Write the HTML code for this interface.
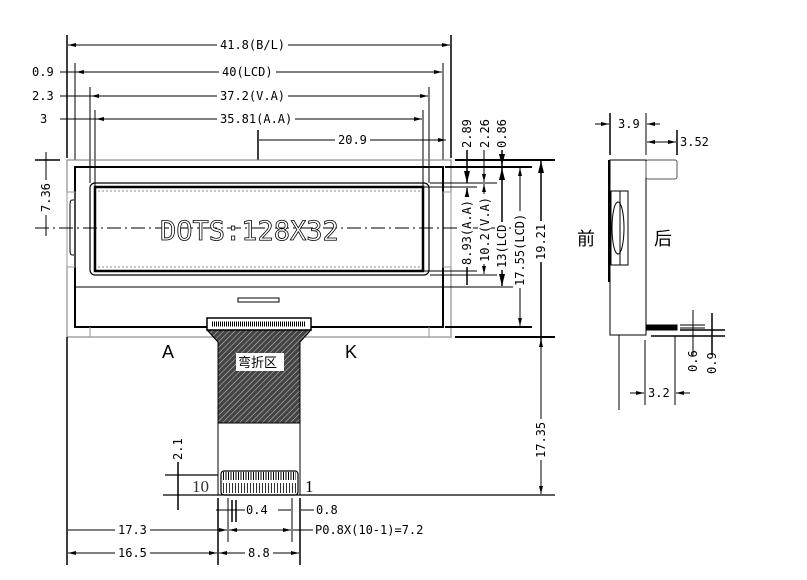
<!DOCTYPE html>
<html><head><meta charset="utf-8"><style>
html,body{margin:0;padding:0;background:#fff;}
svg{display:block;}
text{font-family:"Liberation Sans","Noto Sans CJK SC",sans-serif;font-size:12px;fill:#000;}
.n{font-family:"DejaVu Sans Mono","Liberation Mono",monospace;font-size:12px;}
</style></head><body>
<svg width="807" height="580" viewBox="0 0 807 580" xmlns="http://www.w3.org/2000/svg">
<defs>
<pattern id="h" width="4" height="4" patternUnits="userSpaceOnUse" patternTransform="rotate(45)">
<rect width="4" height="4" fill="#444"/><line x1="0" y1="0" x2="0" y2="4" stroke="#ccc" stroke-width="1"/></pattern>
<marker id="a" markerWidth="8" markerHeight="6" refX="8" refY="3" orient="auto-start-reverse"><path d="M0,1 L8,3 L0,5" fill="#000"/></marker>
</defs>
<g stroke="#000" fill="none" stroke-width="1">
<line x1="67" y1="35" x2="67" y2="158" stroke-width="1.5"/>
<line x1="451" y1="35" x2="451" y2="158" stroke-width="1.5"/>
<line x1="75" y1="63" x2="75" y2="160"/>
<line x1="443" y1="63" x2="443" y2="160"/>
<line x1="90" y1="87" x2="90" y2="183"/>
<line x1="429" y1="87" x2="429" y2="183"/>
<line x1="95" y1="110" x2="95" y2="187"/>
<line x1="423" y1="110" x2="423" y2="187"/>
<line x1="258" y1="130" x2="258" y2="160" stroke-width="1.5"/>
<line x1="68" y1="45" x2="450" y2="45" marker-start="url(#a)" marker-end="url(#a)"/>
<line x1="60" y1="72" x2="442" y2="72" marker-end="url(#a)"/>
<line x1="76" y1="72" x2="100" y2="72" marker-start="url(#a)"/>
<line x1="60" y1="96" x2="428" y2="96" marker-end="url(#a)"/>
<line x1="91" y1="96" x2="110" y2="96" marker-start="url(#a)"/>
<line x1="60" y1="119" x2="422" y2="119" marker-end="url(#a)"/>
<line x1="96" y1="119" x2="110" y2="119" marker-start="url(#a)"/>
<line x1="259" y1="140" x2="446" y2="140" marker-end="url(#a)"/>
<rect x="67" y="160" width="384" height="177" stroke="#777"/>
<rect x="75" y="167" width="368" height="160" stroke-width="2"/>
<rect x="90" y="183" width="339" height="92" rx="5" stroke-width="1.2"/>
<rect x="95" y="187" width="328" height="84" stroke-width="2.5"/>
<line x1="98" y1="191" x2="420" y2="191" stroke="#888" stroke-dasharray="2,2"/>
<line x1="98" y1="267" x2="420" y2="267" stroke="#888" stroke-dasharray="2,2"/>
<line x1="75" y1="287" x2="443" y2="287"/>
<rect x="238" y="298" width="41" height="4"/>
<line x1="90" y1="327" x2="90" y2="337" stroke="#999"/>
<line x1="429" y1="327" x2="429" y2="337" stroke="#999"/>
<path d="M75,200 L72,200 Q70,200 70,205 L70,250 Q70,255 72,255 L75,255"/>
<rect x="67" y="192" width="8" height="75" stroke="#999"/>
<rect x="443" y="192" width="8" height="75" stroke="#999"/>
<line x1="35" y1="228" x2="520" y2="228" stroke-dasharray="14,4,2,4"/>
<line x1="35" y1="160" x2="60" y2="160" stroke-width="1.5"/>
<line x1="46" y1="152" x2="46" y2="236"/>
<line x1="455" y1="160" x2="555" y2="160" stroke-width="2"/>
<line x1="445" y1="167" x2="532" y2="167" stroke-width="2"/>
<line x1="430" y1="183" x2="497" y2="183"/>
<line x1="424" y1="187" x2="477" y2="187"/>
<line x1="424" y1="271" x2="477" y2="271"/>
<line x1="430" y1="275" x2="497" y2="275"/>
<line x1="443" y1="287" x2="515" y2="287"/>
<line x1="445" y1="327" x2="532" y2="327" stroke-width="2"/>
<line x1="455" y1="337" x2="555" y2="337" stroke-width="2"/>
<line x1="467" y1="150" x2="467" y2="183" marker-end="url(#a)" stroke-width="1.5"/>
<line x1="467" y1="188" x2="467" y2="285" marker-start="url(#a)" stroke-width="1.5"/>
<line x1="484" y1="150" x2="484" y2="182" marker-end="url(#a)"/>
<line x1="484" y1="184" x2="484" y2="274" marker-start="url(#a)" marker-end="url(#a)"/>
<line x1="502" y1="150" x2="502" y2="166" marker-end="url(#a)" stroke-width="1.5"/>
<line x1="502" y1="168" x2="502" y2="286" marker-start="url(#a)" marker-end="url(#a)" stroke-width="1.5"/>
<line x1="520" y1="168" x2="520" y2="326" marker-start="url(#a)" marker-end="url(#a)"/>
<line x1="541" y1="161" x2="541" y2="345" marker-start="url(#a)" stroke-width="1.5"/>
<line x1="541" y1="339" x2="541" y2="494" marker-start="url(#a)" marker-end="url(#a)"/>
<path d="M207,330 L218,342 L218,423 L300,423 L300,342 L311,330 Z" fill="url(#h)"/>
<rect x="207" y="318" width="104" height="12" fill="#fff" stroke-width="1.5"/>
<line x1="212" y1="324" x2="306" y2="324" stroke-width="5" stroke-dasharray="1,1"/>
<line x1="218" y1="423" x2="218" y2="495"/>
<line x1="300" y1="423" x2="300" y2="495"/>
<rect x="221" y="471" width="77" height="24" rx="3" stroke-width="1.2"/>
<line x1="223" y1="476" x2="296" y2="476" stroke-width="8" stroke-dasharray="1,1.5"/>
<line x1="223" y1="488" x2="296" y2="488" stroke-width="10" stroke-dasharray="1,2" stroke="#333"/>
<line x1="163" y1="495" x2="555" y2="495" stroke-width="1.2"/>
<line x1="165" y1="475" x2="218" y2="475" stroke-width="1.2"/>
<line x1="178" y1="440" x2="178" y2="510" stroke-width="1.5"/>
<line x1="67" y1="337" x2="67" y2="565" stroke-width="1.5"/>
<line x1="218" y1="498" x2="218" y2="565" stroke-width="1.5"/>
<line x1="228" y1="498" x2="228" y2="542"/>
<line x1="300" y1="498" x2="300" y2="565" stroke-width="1.5"/>
<line x1="292" y1="498" x2="292" y2="542"/>
<line x1="232" y1="500" x2="232" y2="522" stroke-width="1.5"/>
<line x1="236" y1="500" x2="236" y2="522" stroke-width="1.5"/>
<line x1="216" y1="510" x2="245" y2="510"/>
<line x1="278" y1="510" x2="291" y2="510"/>
<line x1="301" y1="510" x2="314" y2="510"/>
<line x1="68" y1="530" x2="227" y2="530" marker-end="url(#a)"/>
<line x1="229" y1="530" x2="291" y2="530" marker-start="url(#a)" marker-end="url(#a)"/>
<line x1="293" y1="530" x2="313" y2="530"/>
<line x1="68" y1="553" x2="217" y2="553" marker-start="url(#a)" marker-end="url(#a)"/>
<line x1="219" y1="553" x2="299" y2="553" marker-start="url(#a)" marker-end="url(#a)"/>
<line x1="610" y1="113" x2="610" y2="155" stroke-width="1.5"/>
<line x1="646" y1="113" x2="646" y2="155"/>
<line x1="677" y1="130" x2="677" y2="155" stroke-width="1.5"/>
<line x1="595" y1="124" x2="609" y2="124" marker-end="url(#a)"/>
<line x1="647" y1="124" x2="660" y2="124" marker-start="url(#a)"/>
<line x1="647" y1="142" x2="676" y2="142" marker-start="url(#a)" marker-end="url(#a)"/>
<rect x="610" y="160" width="36" height="175"/>
<line x1="609" y1="160" x2="609" y2="282" stroke-width="2"/>
<rect x="646" y="160" width="31" height="19" rx="2" stroke="#555"/>
<rect x="611" y="191" width="17" height="74"/>
<line x1="620" y1="191" x2="620" y2="265"/>
<ellipse cx="618" cy="228" rx="6" ry="26"/>
<rect x="646" y="325" width="31" height="5" fill="#000"/>
<line x1="680" y1="325" x2="705" y2="325"/>
<line x1="680" y1="328" x2="705" y2="328"/>
<line x1="680" y1="330" x2="725" y2="330" stroke-width="1.5"/>
<line x1="651" y1="336" x2="725" y2="336" stroke-width="1.5"/>
<line x1="693" y1="310" x2="693" y2="355"/>
<line x1="712" y1="313" x2="712" y2="355" stroke-width="1.5"/>
<line x1="619" y1="335" x2="619" y2="410"/>
<line x1="645" y1="340" x2="645" y2="405"/>
<line x1="675" y1="336" x2="675" y2="405"/>
<line x1="630" y1="393" x2="644" y2="393" marker-end="url(#a)"/>
<line x1="676" y1="393" x2="690" y2="393" marker-start="url(#a)"/>
</g>
<g fill="#fff">
<rect x="217" y="38" width="71" height="13"/>
<rect x="219" y="65" width="57" height="13"/>
<rect x="217" y="89" width="71" height="13"/>
<rect x="217" y="112" width="78" height="13"/>
<rect x="335" y="133" width="35" height="13"/>
<rect x="115" y="523" width="35" height="13"/>
<rect x="115" y="546" width="35" height="13"/>
<rect x="245" y="546" width="28" height="13"/>
<rect x="39" y="180" width="13" height="35"/>
<rect x="460" y="197" width="13" height="70"/>
<rect x="478" y="194" width="13" height="70"/>
<rect x="495" y="222" width="13" height="48"/>
<rect x="513" y="211" width="13" height="77"/>
<rect x="534" y="221" width="13" height="41"/>
<rect x="534" y="419" width="13" height="41"/>
<rect x="171" y="435" width="13" height="27"/>
</g>
<text x="220" y="49" class="n">41.8(B/L)</text>
<text x="222" y="76" class="n">40(LCD)</text>
<text x="220" y="100" class="n">37.2(V.A)</text>
<text x="220" y="123" class="n">35.81(A.A)</text>
<text x="338" y="144" class="n">20.9</text>
<text x="32" y="76" class="n">0.9</text>
<text x="32" y="100" class="n">2.3</text>
<text x="40" y="123" class="n">3</text>
<text class="n" transform="translate(50,212) rotate(-90)">7.36</text>
<text class="n" transform="translate(471,148) rotate(-90)">2.89</text>
<text class="n" transform="translate(489,148) rotate(-90)">2.26</text>
<text class="n" transform="translate(506,148) rotate(-90)">0.86</text>
<text class="n" transform="translate(471,265) rotate(-90)">8.93(A.A)</text>
<text class="n" transform="translate(489,262) rotate(-90)">10.2(V.A)</text>
<text class="n" transform="translate(506,268) rotate(-90)">13(LCD</text>
<text class="n" transform="translate(524,286) rotate(-90)">17.55(LCD)</text>
<text class="n" transform="translate(545,260) rotate(-90)">19.21</text>
<text class="n" transform="translate(545,458) rotate(-90)">17.35</text>
<text class="n" transform="translate(182,460) rotate(-90)">2.1</text>
<text x="246" y="514" class="n">0.4</text>
<text x="316" y="514" class="n">0.8</text>
<text x="315" y="534" class="n">P0.8X(10-1)=7.2</text>
<text x="118" y="534" class="n">17.3</text>
<text x="118" y="557" class="n">16.5</text>
<text x="248" y="557" class="n">8.8</text>
<text x="618" y="128" class="n">3.9</text>
<text x="680" y="146" class="n">3.52</text>
<text class="n" transform="translate(697,372) rotate(-90)">0.6</text>
<text class="n" transform="translate(716,374) rotate(-90)">0.9</text>
<text x="648" y="397" class="n">3.2</text>
<text x="160" y="240" style="font-family:'DejaVu Sans Mono',monospace;font-size:27px;fill:#fff;stroke:#000;stroke-width:0.8">DOTS:128X32</text>
<text x="162" y="358" style="font-size:18px">A</text>
<text x="345" y="358" style="font-size:18px">K</text>
<rect x="236" y="353" width="48" height="18" fill="#fff"/>
<text x="238" y="367" style="font-size:13px">弯折区</text>
<text x="192" y="492" style="font-family:'Liberation Serif',serif;font-size:17px;fill:#333">10</text>
<text x="305" y="492" style="font-family:'Liberation Serif',serif;font-size:17px">1</text>
<text x="577" y="245" style="font-size:18px">前</text>
<text x="654" y="245" style="font-size:18px">后</text>
</svg>
</body></html>
